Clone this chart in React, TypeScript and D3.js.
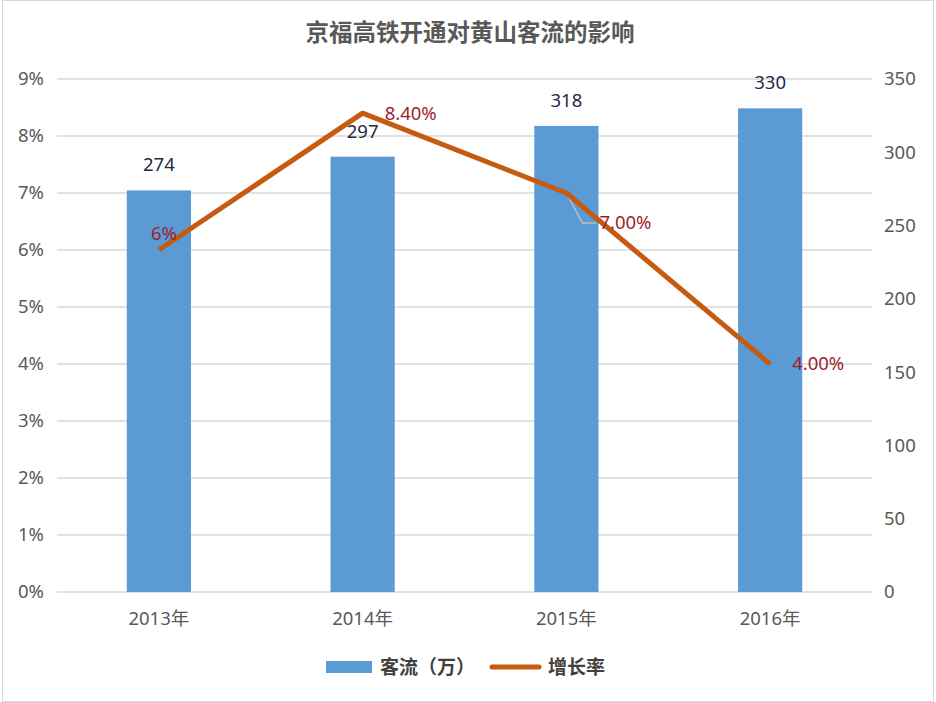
import React, { useRef, useEffect } from 'react';
import * as d3 from 'd3';

const years = ['2013年', '2014年', '2015年', '2016年'];
const flow = [274, 297, 318, 330];
const growth = [6, 8.4, 7.0, 4.0];
const growthLabels = ['6%', '8.40%', '7.00%', '4.00%'];
const leftTicks = [0, 1, 2, 3, 4, 5, 6, 7, 8, 9];
const rightTicks = [0, 50, 100, 150, 200, 250, 300, 350];

const App: React.FC = () => {
  const ref = useRef<SVGSVGElement>(null);

  useEffect(() => {
    const svg = d3.select(ref.current);
    svg.selectAll('*').remove();
    const width = 936;
    const height = 702;
    const margin = { top: 79, right: 64, bottom: 110, left: 57 };
    const axisFont = '"Noto Sans", "Noto Sans CJK SC", sans-serif';
    const cjkFont = '"Noto Sans CJK SC", sans-serif';
    const fs = 18.5;

    svg.attr('width', width).attr('height', height);

    svg.append('rect')
      .attr('x', 2.5).attr('y', 0.5)
      .attr('width', width - 5).attr('height', height - 1)
      .attr('fill', '#fff').attr('stroke', '#d9d9d9');

    svg.append('text')
      .attr('x', width / 2 + 2).attr('y', 41)
      .attr('text-anchor', 'middle')
      .attr('font-family', cjkFont)
      .attr('font-weight', 'bold')
      .attr('font-size', 23.5)
      .attr('fill', '#595959')
      .text('京福高铁开通对黄山客流的影响');

    const x = d3.scaleBand()
      .domain(years)
      .range([margin.left, width - margin.right])
      .padding(0);

    const yL = d3.scaleLinear().domain([0, 9]).range([height - margin.bottom, margin.top]);
    const yR = d3.scaleLinear().domain([0, 350]).range([height - margin.bottom, margin.top]);

    // grid
    svg.append('g')
      .selectAll('line')
      .data(leftTicks)
      .join('line')
      .attr('x1', margin.left).attr('x2', width - margin.right)
      .attr('y1', d => yL(d)).attr('y2', d => yL(d))
      .attr('stroke', '#d9d9d9').attr('stroke-width', 1.5);

    svg.append('g')
      .selectAll('text')
      .data(leftTicks)
      .join('text')
      .attr('x', 44).attr('y', d => yL(d))
      .attr('dy', '0.35em')
      .attr('text-anchor', 'end')
      .attr('font-family', axisFont).attr('font-size', fs)
      .attr('fill', '#595959')
      .text(d => `${d}%`);

    svg.append('g')
      .selectAll('text')
      .data(rightTicks)
      .join('text')
      .attr('x', 884).attr('y', d => yR(d))
      .attr('dy', '0.35em')
      .attr('text-anchor', 'start')
      .attr('font-family', axisFont).attr('font-size', fs)
      .attr('fill', '#595959')
      .text(d => d);

    const bw = x.bandwidth() * 0.315;
    svg.append('g')
      .selectAll('rect')
      .data(flow)
      .join('rect')
      .attr('x', (d, i) => x(years[i])! + x.bandwidth() / 2 - bw / 2)
      .attr('y', d => yR(d))
      .attr('width', bw)
      .attr('height', d => yR(0) - yR(d))
      .attr('fill', '#5b9bd5');

    svg.append('g')
      .selectAll('text')
      .data(flow)
      .join('text')
      .attr('x', (d, i) => x(years[i])! + x.bandwidth() / 2)
      .attr('y', d => yR(d) - 19)
      .attr('text-anchor', 'middle')
      .attr('font-family', axisFont).attr('font-size', fs)
      .attr('fill', '#1f2a44')
      .text(d => d);

    // x axis labels
    svg.append('g')
      .selectAll('text')
      .data(years)
      .join('text')
      .attr('x', d => x(d)! + x.bandwidth() / 2)
      .attr('y', 625)
      .attr('text-anchor', 'middle')
      .attr('font-family', axisFont).attr('font-size', fs)
      .attr('fill', '#595959')
      .text(d => d);

    const cx = (i: number) => x(years[i])! + x.bandwidth() / 2;

    // leader line for 2015 label
    svg.append('path')
      .attr('d', `M${cx(2)},${yL(growth[2])}L${cx(2) + 16},${yL(growth[2]) + 30}L${cx(2) + 30},${yL(growth[2]) + 30}`)
      .attr('fill', 'none')
      .attr('stroke', '#bfbfbf').attr('stroke-width', 1.5);

    svg.append('path')
      .datum(growth)
      .attr('fill', 'none')
      .attr('stroke', '#c55a11')
      .attr('stroke-width', 5)
      .attr('stroke-linejoin', 'round')
      .attr('d', d3.line<number>()
        .x((d, i) => cx(i))
        .y(d => yL(d)));

    const labelOffsets = [[5, -16], [22, 0], [33, 30], [22, 0]];
    svg.append('g')
      .selectAll('text')
      .data(growth)
      .join('text')
      .attr('x', (d, i) => cx(i) + labelOffsets[i][0])
      .attr('y', (d, i) => yL(d) + labelOffsets[i][1])
      .attr('dy', '0.35em')
      .attr('text-anchor', (d, i) => (i === 0 ? 'middle' : 'start'))
      .attr('font-family', axisFont).attr('font-size', fs)
      .attr('fill', '#9c1f2e')
      .text((d, i) => growthLabels[i]);

    // legend
    const lg = svg.append('g').attr('font-family', cjkFont).attr('font-weight', 'bold')
      .attr('font-size', 19).attr('fill', '#404040');
    lg.append('rect').attr('x', 326).attr('y', 661).attr('width', 46).attr('height', 12).attr('fill', '#5b9bd5');
    lg.append('text').attr('x', 380).attr('y', 667).attr('dy', '0.35em').text('客流（万）');
    lg.append('line').attr('x1', 492).attr('x2', 539).attr('y1', 667).attr('y2', 667)
      .attr('stroke', '#c55a11').attr('stroke-width', 5).attr('stroke-linecap', 'round');
    lg.append('text').attr('x', 548).attr('y', 667).attr('dy', '0.35em').text('增长率');
  }, []);

  return <svg ref={ref} style={{ position: 'absolute', left: 0, top: 0 }}></svg>;
};

export default App;
